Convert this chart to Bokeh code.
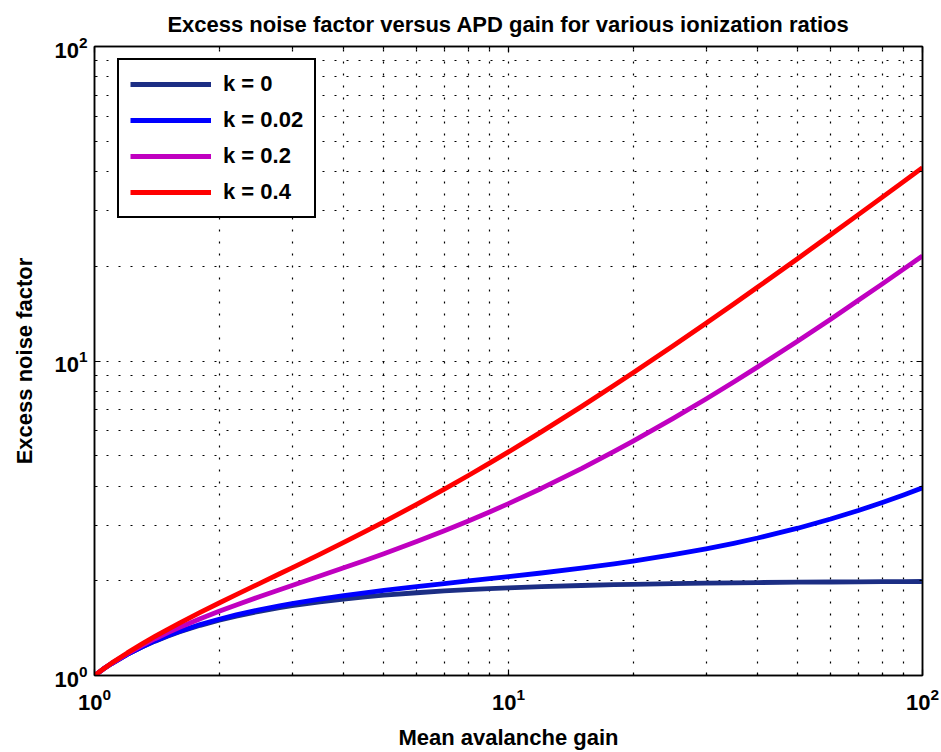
from bokeh.plotting import figure
from bokeh.models import (Range1d, LogAxis, FixedTicker, LogTickFormatter,
                          Legend, LegendItem, ColumnDataSource)
from bokeh.embed import file_html
from bokeh.resources import INLINE

# ---- data ----
gain = [1, 1.05, 1.1, 1.2, 1.3, 1.4, 1.5, 1.6, 1.8, 2, 2.2, 2.5, 2.8, 3, 3.5, 4, 4.5,
        5, 6, 7, 8, 9, 10, 12, 15, 18, 20, 25, 30, 35, 40, 50, 60, 70, 80, 90, 100]
f_k0 = [1.000, 1.048, 1.091, 1.167, 1.231, 1.286, 1.333, 1.375, 1.444, 1.500, 1.545,
        1.600, 1.643, 1.667, 1.714, 1.750, 1.778, 1.800, 1.833, 1.857, 1.875, 1.889,
        1.900, 1.917, 1.933, 1.944, 1.950, 1.960, 1.967, 1.971, 1.975, 1.980, 1.983,
        1.986, 1.988, 1.989, 1.990]
f_k002 = [1.000, 1.048, 1.091, 1.167, 1.232, 1.288, 1.337, 1.380, 1.452, 1.510, 1.559,
          1.618, 1.666, 1.693, 1.750, 1.795, 1.832, 1.864, 1.917, 1.960, 1.998, 2.031,
          2.062, 2.118, 2.195, 2.266, 2.311, 2.421, 2.527, 2.632, 2.736, 2.940, 3.144,
          3.346, 3.548, 3.749, 3.950]
f_k02 = [1.000, 1.048, 1.093, 1.173, 1.245, 1.309, 1.367, 1.420, 1.516, 1.600, 1.676,
         1.780, 1.874, 1.933, 2.071, 2.200, 2.322, 2.440, 2.667, 2.886, 3.100, 3.311,
         3.520, 3.933, 4.547, 5.156, 5.560, 6.568, 7.573, 8.577, 9.580, 11.584, 13.587,
         15.589, 17.590, 19.591, 21.592]
f_k04 = [1.000, 1.049, 1.095, 1.180, 1.258, 1.331, 1.400, 1.465, 1.587, 1.700, 1.807,
         1.960, 2.106, 2.200, 2.429, 2.650, 2.867, 3.080, 3.500, 3.914, 4.325, 4.733,
         5.140, 5.950, 7.160, 8.367, 9.170, 11.176, 13.180, 15.183, 17.185, 21.188,
         25.190, 29.191, 33.193, 37.193, 41.194]

series_labels = ["k = 0", "k = 0.02", "k = 0.2", "k = 0.4"]
series_values = [f_k0, f_k002, f_k02, f_k04]
series_colors = ["#1c2e84", "#0000ff", "#c000c0", "#ff0000"]

major_ticks = [1, 10, 100]
minor_ticks = [2, 3, 4, 5, 6, 7, 8, 9, 20, 30, 40, 50, 60, 70, 80, 90]

FONT = "Liberation Sans"

p = figure(width=941, height=752, x_axis_type="log", y_axis_type="log",
           x_range=Range1d(1, 100), y_range=Range1d(1, 100),
           output_backend="svg", toolbar_location=None,
           min_border_left=94, min_border_right=19,
           min_border_top=43, min_border_bottom=77,
           title="Excess noise factor versus APD gain for various ionization ratios")

p.title.text_font = FONT
p.title.text_font_size = "22px"
p.title.text_font_style = "bold"
p.title.align = "center"
p.title.text_color = "black"
p.title.standoff = 19

p.outline_line_color = "black"
p.outline_line_width = 1.5

def style_axis(ax, show_labels=True):
    ax.ticker = FixedTicker(ticks=major_ticks, minor_ticks=minor_ticks)
    ax.formatter = LogTickFormatter()
    ax.axis_line_color = "black"
    ax.axis_line_width = 1.5
    ax.major_tick_in = 6
    ax.major_tick_out = 0
    ax.minor_tick_in = 3
    ax.minor_tick_out = 0
    ax.major_tick_line_color = "black"
    ax.minor_tick_line_color = "black"
    ax.major_tick_line_width = 1.2
    ax.minor_tick_line_width = 1.2
    ax.major_label_text_font = FONT
    ax.major_label_text_font_style = "bold"
    ax.major_label_text_color = "black"
    ax.axis_label_text_font = FONT
    ax.axis_label_text_font_style = "bold"
    ax.axis_label_text_font_size = "22px"
    ax.axis_label_text_color = "black"
    if show_labels:
        ax.major_label_text_font_size = "22px"
    else:
        ax.major_label_text_font_size = "2px"
        ax.major_label_text_color = None
        ax.major_label_standoff = 0

xa = p.xaxis[0]
ya = p.yaxis[0]
style_axis(xa)
style_axis(ya)
xa.axis_label = "Mean avalanche gain"
ya.axis_label = "Excess noise factor"
xa.major_label_standoff = 12
xa.axis_label_standoff = 12
ya.major_label_standoff = 7
ya.axis_label_standoff = 14

top_ax = LogAxis()
right_ax = LogAxis()
style_axis(top_ax, show_labels=False)
style_axis(right_ax, show_labels=False)
p.add_layout(top_ax, "above")
p.add_layout(right_ax, "right")

for g in (p.xgrid[0], p.ygrid[0]):
    g.ticker = FixedTicker(ticks=major_ticks, minor_ticks=minor_ticks)
    g.grid_line_color = "black"
    g.grid_line_dash = "2 10"
    g.grid_line_width = 1.2
    g.minor_grid_line_color = "black"
    g.minor_grid_line_dash = "2 10"
    g.minor_grid_line_width = 1.2

items = []
for lab, vals, col in zip(series_labels, series_values, series_colors):
    src = ColumnDataSource(data=dict(x=gain, y=vals))
    r = p.line("x", "y", source=src, line_color=col, line_width=4.8, line_join="round")
    items.append(LegendItem(label=lab, renderers=[r]))

legend = Legend(items=items, location=(23, 457), margin=0,
                padding=11, spacing=10, label_height=26, glyph_height=26,
                glyph_width=81, label_standoff=12,
                label_text_font=FONT, label_text_font_style="bold",
                label_text_font_size="22px", label_text_color="black",
                border_line_color="black", border_line_width=2,
                border_line_alpha=1,
                background_fill_color="white", background_fill_alpha=1)
p.add_layout(legend, "center")

open("out.html", "w").write(file_html(p, INLINE))
